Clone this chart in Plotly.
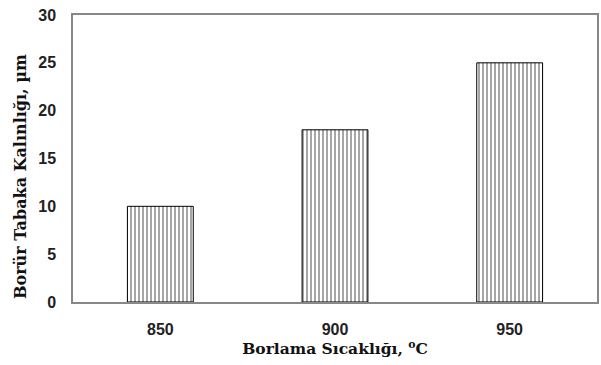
import plotly.graph_objects as go

categories = ["850", "900", "950"]
values = [10, 18, 25]
y_ticks = [0, 5, 10, 15, 20, 25, 30]

fig = go.Figure()
fig.add_trace(go.Bar(
    x=categories, y=values, width=0.377,
    marker=dict(color="white", line=dict(color="black", width=1),
                pattern=dict(shape="|", size=4, solidity=0.35, fgcolor="black", bgcolor="white")),
))

fig.update_layout(
    width=601, height=365,
    margin=dict(l=73, r=2, t=15, b=63),
    plot_bgcolor="white", paper_bgcolor="white",
    showlegend=False, bargap=0.623,
    annotations=[dict(
        text="Borür Tabaka Kalınlığı, µm", textangle=-90,
        xref="paper", yref="paper", x=0, xshift=-53, y=0.4355,
        xanchor="center", yanchor="middle", showarrow=False,
        font=dict(family="DejaVu Serif", size=16, color="#111", weight="bold"),
    )],
)
fig.update_xaxes(
    type="category",
    showline=True, linecolor="#888", linewidth=1.5, mirror=True,
    showgrid=False, ticks="outside", ticklen=12, tickcolor="rgba(0,0,0,0)",
    tickfont=dict(family="Liberation Sans", size=16, color="#222", weight="bold"),
    title=dict(text="Borlama Sıcaklığı, <sup>o</sup>C", standoff=5,
               font=dict(family="DejaVu Serif", size=15.5, color="#111", weight="bold")),
)
fig.update_yaxes(
    range=[0, 30], tickvals=y_ticks,
    showline=True, linecolor="#888", linewidth=1.5, mirror=True,
    showgrid=False, zeroline=False, ticks="outside", ticklen=12, tickcolor="rgba(0,0,0,0)",
    tickfont=dict(family="Liberation Sans", size=16, color="#222", weight="bold"),
)

fig.write_html("out.html")
